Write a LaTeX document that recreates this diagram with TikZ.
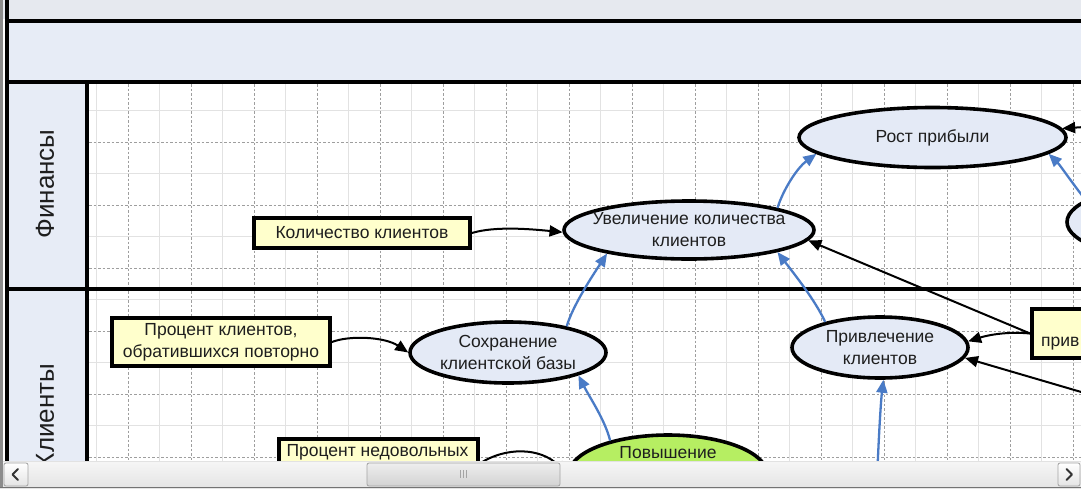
\documentclass[tikz,border=0pt]{standalone}
\usepackage{fontspec}
\setmainfont{Liberation Sans}
\usetikzlibrary{shapes.geometric,arrows.meta}

\definecolor{titlestrip}{HTML}{E6E9EF}
\definecolor{bandblue}{HTML}{E7ECF6}
\definecolor{ovalfill}{HTML}{E4EAF6}
\definecolor{notefill}{HTML}{FFFFCC}
\definecolor{limefill}{HTML}{B6EE62}
\definecolor{linkblue}{HTML}{4A7BC6}
\definecolor{gridmaj}{HTML}{9E9E9E}
\definecolor{gridmin}{HTML}{E2E2E2}
\definecolor{inktext}{HTML}{1E1E1E}
\definecolor{framegray}{HTML}{8C8C8C}
\definecolor{barlight}{HTML}{F6F6F6}
\definecolor{bardark}{HTML}{E4E4E4}
\definecolor{thumbtop}{HTML}{EEEEEE}
\definecolor{thumbbot}{HTML}{D2D2D2}
\definecolor{thumbedge}{HTML}{A4A4A4}

\newcommand\nodefont{\fontsize{17.5}{22}\selectfont}
\newcommand\lanefont{\fontsize{26}{30}\selectfont}

\begin{document}
\begin{tikzpicture}[x=1pt,y=-1pt,
  goal/.style={ellipse, draw=black, line width=3.6pt, fill=ovalfill, inner sep=0pt},
  goaltext/.style={font=\nodefont, align=center, text=inktext, inner sep=0pt},
  note/.style={rectangle, draw=black, line width=3.8pt, fill=notefill, inner sep=0pt,
    font=\nodefont, align=center, text=inktext},
  plaintext/.style={font=\nodefont, text=inktext, inner sep=0pt},
  lanelabel/.style={font=\lanefont, text=inktext, inner sep=0pt, rotate=90},
  cause/.style={draw=black, line width=2pt, -{Triangle[length=13pt,width=11pt]}},
  effect/.style={draw=linkblue, line width=2.3pt, -{Triangle[length=13pt,width=11pt]}},
  laneline/.style={draw=black, line width=4pt},
  majorline/.style={draw=gridmaj, line width=0.9pt, dash pattern=on 2.5pt off 2pt},
  minorline/.style={draw=gridmin, line width=0.9pt},
  button/.style={draw=thumbedge, line width=0.8pt, top color=white, bottom color=bardark, rounded corners=2pt},
  chevron/.style={draw=black!80, line width=2pt, line cap=round, line join=round}
]
\clip (0,0) rectangle (1081,488);
\fill[white] (0,0) rectangle (1081,488);

% window strip and swimlane header
\fill[titlestrip] (0,0) rectangle (1081,19);
\fill[bandblue] (7,21) rectangle (1081,82);
\fill[bandblue] (7,82) rectangle (87,488);

% page grid
\begin{scope}
  \clip (89,84) rectangle (1081,462);
  \foreach \gx in {96.5,159.5,...,1081} \draw[minorline] (\gx,84) -- (\gx,462);
  \foreach \gy in {110.5,173.5,...,462} \draw[minorline] (89,\gy) -- (1081,\gy);
  \foreach \gx in {128,191,...,1081} \draw[majorline] (\gx,84) -- (\gx,462);
  \foreach \gy in {142,205,...,462} \draw[majorline] (89,\gy) -- (1081,\gy);
\end{scope}

% frame and lane borders
\fill[framegray] (0,0) rectangle (3,488);
\draw[laneline] (6.5,0) -- (6.5,488);
\draw[laneline] (5,21) -- (1081,21);
\draw[laneline] (5,82) -- (1081,82);
\draw[laneline] (5,289) -- (1081,289);
\draw[laneline] (87,82) -- (87,488);

% lane titles
\node[lanelabel] (fin) at (45,184) {Финансы};
\node[lanelabel] (cli) at (45,416) {Клиенты};

% finance lane
\node[note, minimum width=216, minimum height=30] (count) at (362,233) {Количество клиентов};
\node[goal, minimum width=250, minimum height=58,
  label={[goaltext]center:{Увеличение количества\\клиентов}}] (grow) at (689,230) {};
\node[goal, minimum width=267, minimum height=60,
  label={[goaltext]center:{Рост прибыли}}] (profit) at (932.5,137.5) {};
\node[goal, minimum width=216, minimum height=74] (rightgoal) at (1175,222) {};

% client lane
\node[note, minimum width=218, minimum height=48] (repeat) at (221,342) {Процент клиентов,\\обратившихся повторно};
\node[goal, minimum width=196, minimum height=61,
  label={[goaltext]center:{Сохранение\\клиентской базы}}] (retain) at (508,352.5) {};
\node[goal, minimum width=176, minimum height=61,
  label={[goaltext]center:{Привлечение\\клиентов}}] (attract) at (880,347.5) {};
\node[note, minimum width=196, minimum height=49] (cost) at (1130,333.5) {};
\node[plaintext, anchor=west] (costtxt) at (1041,344) {прив};
\node[note, minimum width=199, minimum height=49] (unhappy) at (378.5,463.5) {};
\node[plaintext] (unhappytxt) at (377.5,452) {Процент недовольных};
\node[goal, fill=limefill, minimum width=198, minimum height=78] (boost) at (668,474) {};
\node[plaintext] (boosttxt) at (668,453) {Повышение};

% free ends of connectors leaving the page
\coordinate (offa) at (1100,397.5);
\coordinate (offb) at (877,480);
\coordinate (offc) at (1100,126);

% measures feeding goals
\draw[cause] (count.east) .. controls (495,226) and (530,229) .. (grow.181);
\draw[cause] (repeat.east) .. controls (350,335) and (385,337) .. (retain.west);
\draw[cause] (unhappy.east) .. controls (505,447) and (540,447) .. (boost.west);
\draw[cause] (cost.west) .. controls (1005,331) and (985,336) .. (attract.4);
\draw[cause] (cost.west) -- (grow.-5);
\draw[cause] (offa) -- (attract.-7);
\draw[cause] (offc) -- (profit.4);

% cause-and-effect links between goals
\draw[effect] (grow.14) .. controls (783,190) and (797,168) .. (profit.188);
\draw[effect] (retain.24) .. controls (573,305) and (593,275) .. (grow.196);
\draw[effect] (attract.155) .. controls (815,300) and (795,275) .. (grow.-14);
\draw[effect] (boost.150) .. controls (605,420) and (590,398) .. (retain.-18);
\draw[effect] (offb) .. controls (879,430) and (881,400) .. (attract.-84);
\draw[effect] (rightgoal.166) .. controls (1070,180) and (1060,165) .. (profit.-8);

% horizontal scroll bar
\shade[top color=barlight, bottom color=bardark] (0,461) rectangle (1081,488);
\draw[gridmin, line width=0.8pt] (0,461) -- (1081,461);
\fill[framegray] (0,461) rectangle (3,488);
\draw[button] (4,463) rectangle (28,486);
\draw[chevron] (18,469) -- (12.5,474.5) -- (18,480);
\draw[button] (1058,463) rectangle (1080,486);
\draw[chevron] (1066.5,469) -- (1072,474.5) -- (1066.5,480);
\draw[draw=thumbedge, line width=0.8pt, top color=thumbtop, bottom color=thumbbot, rounded corners=2pt] (367,463) rectangle (560,486);
\foreach \gx in {460,463,466} \draw[thumbedge, line width=0.8pt] (\gx,470) -- (\gx,478);
\draw[black!55, line width=1.2pt] (0,487.4) -- (1081,487.4);
\end{tikzpicture}
\end{document}
